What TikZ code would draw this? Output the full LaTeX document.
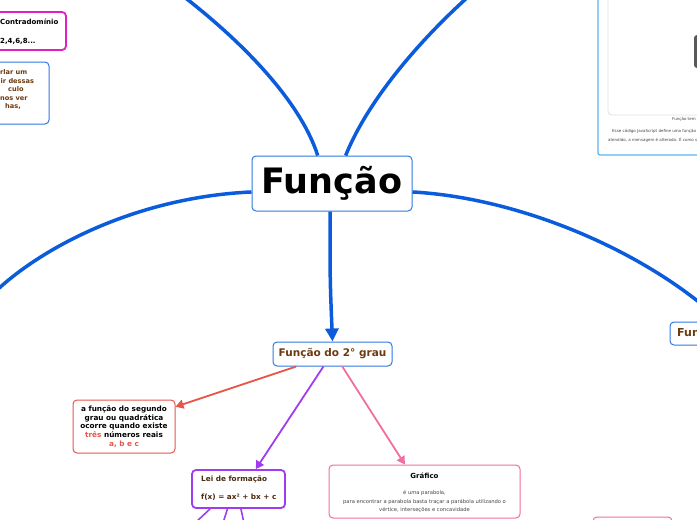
\documentclass[tikz,border=0pt]{standalone}
\usepackage{fontspec}
\setmainfont{DejaVu Sans}
\usetikzlibrary{arrows.meta}
\definecolor{mblue}{HTML}{0A5CDC}
\definecolor{nblue}{HTML}{2F78E4}
\definecolor{lblue}{HTML}{5AB4EC}
\definecolor{brn}{HTML}{6B3A0E}
\definecolor{dbrn}{HTML}{4A2A10}
\definecolor{mred}{HTML}{E8554A}
\definecolor{mpur}{HTML}{A03CF0}
\definecolor{mpink}{HTML}{F06EA0}
\definecolor{mmag}{HTML}{E020C0}
\definecolor{gtxt}{HTML}{444444}
\tikzset{
  box/.style={draw, rounded corners=4pt, fill=white, inner sep=0pt, line width=1pt},
  bluelink/.style={draw=mblue, line width=3.5pt},
  tiny/.style={font=\fontsize{4}{5}\selectfont, text=gtxt, inner sep=0pt},
  tip/.style={-{Triangle[length=8pt,width=9pt]}},
  ltxt/.style={anchor=base west, inner sep=0pt, text=brn, font=\fontsize{6.6}{8}\selectfont\bfseries},
}
\begin{document}
\begin{tikzpicture}[x=1pt,y=-1pt]
\useasboundingbox (0,0) rectangle (697,520);
\clip (0,0) rectangle (697,520);

% top-right partial image box
\node[box, draw=lblue, rounded corners=2pt, line width=1.2pt, minimum width=110pt, minimum height=165pt] (img) at (653,72.5) {};
\node[box, draw=black!12, line width=0.8pt, minimum width=100pt, minimum height=125pt] (frame) at (658,52.5) {};
\node[box, draw=none, fill=black!65, rounded corners=3pt, minimum width=14pt, minimum height=33pt] (dark) at (701,51.5) {};
\node[tiny, anchor=west] (cap) at (672,119) {Função tem};
\node[tiny, anchor=west] (t1) at (612,131) {Esse código JavaScript define uma função};
\node[tiny, anchor=west] (t2) at (608,140) {atendido, a mensagem é alterada. É como s};

% top-left boxes
\node[box, draw=mmag, line width=1.8pt, minimum width=76pt, minimum height=38pt] (contra) at (28,31) {};
\node[anchor=west, inner sep=0pt, font=\fontsize{7}{8}\selectfont\bfseries] (c1) at (0,22) {Contradomínio};
\node[anchor=west, inner sep=0pt, font=\fontsize{7}{8}\selectfont\bfseries] (c2) at (0,41) {2,4,6,8...};

\node[box, draw=nblue, minimum width=59pt, minimum height=62pt] (lbox) at (19.5,93) {};
\node[ltxt] (l1) at (0,74.5) {rlar um};
\node[ltxt] (l2) at (0.5,83) {ir dessas};
\node[ltxt] (l3) at (8,91.5) {culo};
\node[ltxt] (l4) at (0,100) {nos ver};
\node[ltxt] (l5) at (5,108.5) {has,};

% right partial node and bottom-right box
\node[box, draw=nblue, minimum width=40pt, minimum height=23pt] (fun) at (690,333.5) {};
\node[anchor=west, inner sep=0pt, text=brn, font=\fontsize{11}{13}\selectfont\bfseries] (funt) at (677,333.5) {Função};
\node[box, draw=mpink, minimum width=79pt, minimum height=20pt] (pk2) at (632.5,527) {};

% central node
\node[box, draw=nblue, minimum width=160pt, minimum height=55pt, font=\fontsize{35}{40}\selectfont\bfseries] (root) at (332,183.5) {Função};

\coordinate (ul) at (183,-4);
\coordinate (ur) at (469,-4);
\coordinate (le) at (-4,291);
\coordinate (ri) at (712,313);

\draw[bluelink] (root.117) .. controls (300,100) and (240,40) .. (ul);
\draw[bluelink] (root.64.7) .. controls (368,100) and (420,40) .. (ur);
\draw[bluelink] (root.186.8) .. controls (140,197) and (45,245) .. (le);
\draw[bluelink] (root.354.6) .. controls (520,198) and (640,250) .. (ri);

% second level node
\node[box, draw=nblue, minimum width=119pt, minimum height=24pt, text=brn, font=\fontsize{10.5}{12}\selectfont\bfseries] (f2) at (332.5,354) {Função do 2° grau};
\draw[bluelink, -{Triangle[length=13pt,width=13pt]}] (root.266) .. controls (330,280) .. (f2.north);

% children
\node[box, draw=mred, minimum width=102pt, minimum height=53pt, align=center, font=\fontsize{7.3}{8.6}\selectfont\bfseries] (red) at (124,426.5)
 {a função do segundo\\grau ou quadrática\\ocorre quando existe\\{\color{mred}três} números reais\\{\color{mred}a, b e c}};

\node[box, draw=mpur, line width=1.8pt, minimum width=93pt, minimum height=38pt] (lei) at (238.5,489) {};
\node[anchor=west, inner sep=0pt, text=dbrn, font=\fontsize{7.3}{9}\selectfont\bfseries] (lei1) at (201,479.5) {Lei de formação};
\node[anchor=west, inner sep=0pt, text=dbrn, font=\fontsize{7.3}{9}\selectfont\bfseries] (lei2) at (201,497) {f(x) = ax² + bx + c};

\node[box, draw=mpink, minimum width=191pt, minimum height=53pt] (graf) at (424.5,491.5) {};
\node[inner sep=0pt, font=\fontsize{7}{8}\selectfont\bfseries] (g1) at (424.5,475.5) {Gráfico};
\node[inner sep=0pt, text=gtxt, align=center, font=\fontsize{5.2}{8.5}\selectfont] (g2) at (424.5,501.5)
 {é uma parabola,\\para encontrar a parabola basta traçar a parábola utilizando o\\vértice, interseções e concavidade};

\draw[mred, line width=1.8pt, tip] (f2.199.2) -- (red.21);
\draw[mpur, line width=1.8pt, tip] (f2.234.7) -- (lei.49);
\draw[mpink, line width=1.8pt, tip] (f2.308.4) -- (graf.126);

\coordinate (p1) at (195,523);
\coordinate (p2) at (223,523);
\coordinate (p3) at (244,523);
\draw[mpur, line width=1.6pt] (lei.215.6) -- (p1);
\draw[mpur, line width=1.6pt] (lei.241) -- (p2);
\draw[mpur, line width=1.6pt] (lei.277.5) -- (p3);
\end{tikzpicture}
\end{document}
